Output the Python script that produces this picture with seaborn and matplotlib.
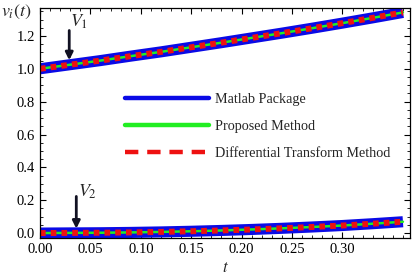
import numpy as np
import pandas as pd
import seaborn as sns
import matplotlib.pyplot as plt
from matplotlib.lines import Line2D
from matplotlib.ticker import MultipleLocator, AutoMinorLocator

# values
t = [0.00, 0.03, 0.06, 0.09, 0.12, 0.15, 0.18, 0.21, 0.24, 0.27, 0.30, 0.33, 0.36]
v1 = [1.000, 1.025, 1.050, 1.077, 1.103, 1.131, 1.159, 1.188, 1.217, 1.247, 1.278, 1.310, 1.343]
v2 = [0.000, 0.001, 0.002, 0.004, 0.007, 0.011, 0.016, 0.022, 0.029, 0.037, 0.046, 0.057, 0.069]

labels = ['Matlab Package', 'Proposed Method', 'Differential Transform Method']

sns.set_style('ticks')
plt.rcParams['font.family'] = ['Liberation Serif', 'DejaVu Serif']
plt.rcParams['mathtext.fontset'] = 'stix'

fig = plt.figure(figsize=(4.17, 2.76), dpi=100)
ax = fig.add_axes([40 / 417, 1 - 238 / 276, 370 / 417, 230 / 276])

for v in (v1, v2):
    sns.lineplot(x=t, y=v, ax=ax, color='#0a0ae6', lw=8, solid_capstyle='butt')
    sns.lineplot(x=t, y=v, ax=ax, color='#22ee22', lw=1.8)
    sns.lineplot(x=t, y=v, ax=ax, color='#ee1111', lw=4.3, linestyle=(0, (0.95, 0.85)),
                 dash_capstyle='butt')

ax.set_xlim(0, 0.367)
ax.set_ylim(-0.03, 1.37)
ax.xaxis.set_major_locator(MultipleLocator(0.05))
ax.xaxis.set_minor_locator(AutoMinorLocator(5))
ax.yaxis.set_major_locator(MultipleLocator(0.2))
ax.yaxis.set_minor_locator(AutoMinorLocator(4))
ax.set_xticks([0, 0.05, 0.1, 0.15, 0.2, 0.25, 0.3])
ax.xaxis.set_major_formatter(lambda x, p: f'{x:.2f}')
ax.yaxis.set_major_formatter(lambda x, p: f'{x:.1f}')
ax.tick_params(which='both', direction='in', top=True, right=True, labelsize=10.5, colors='black')
ax.tick_params(which='major', length=4, width=0.8)
ax.tick_params(which='minor', length=2, width=0.6)
for s in ax.spines.values():
    s.set_linewidth(0.9)
    s.set_color('black')

ax.set_xlabel('$t$', fontsize=12, labelpad=3)
fig.text(1 / 417, 1 - 12 / 276, r'$v_i(t)$', fontsize=13, va='center')

ax.annotate('', xy=(0.029, 1.035), xytext=(0.029, 1.25),
            arrowprops=dict(arrowstyle='-|>', color='#111122', lw=2, mutation_scale=11))
ax.text(0.030, 1.255, r'$V_1$', fontsize=13)
ax.annotate('', xy=(0.036, 0.01), xytext=(0.036, 0.24),
            arrowprops=dict(arrowstyle='-|>', color='#111122', lw=2, mutation_scale=11))
ax.text(0.038, 0.22, r'$V_2$', fontsize=13)

handles = [
    Line2D([], [], color='#0a0ae6', lw=3.2),
    Line2D([], [], color='#22ee22', lw=3.2),
    Line2D([], [], color='#ee1111', lw=3.2, dashes=(3, 2)),
]
fig.legend(handles, labels, loc='upper left', bbox_to_anchor=(125 / 417, 1 - 93 / 276),
           frameon=False, fontsize=10.2, handlelength=5.9, handletextpad=0.45,
           labelspacing=1.0, borderpad=0, borderaxespad=0)

fig.savefig('out.png', dpi=100)
